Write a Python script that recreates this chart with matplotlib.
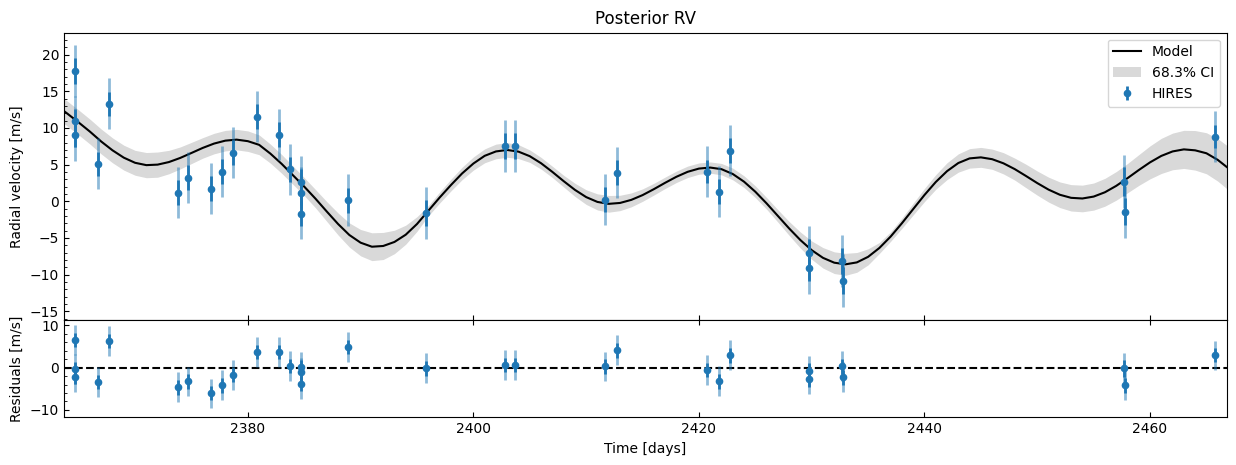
import numpy as np
import matplotlib
matplotlib.use("Agg")
import matplotlib.pyplot as plt
from matplotlib.ticker import MultipleLocator

# ---- observed data (HIRES) ----
obs_time = [2364.69, 2364.69, 2364.69, 2366.75, 2367.70, 2373.85, 2374.71, 2376.75,
            2377.72, 2378.70, 2380.85, 2382.80, 2383.78, 2384.75, 2384.75, 2384.75,
            2388.92, 2395.81, 2402.84, 2403.72, 2411.70, 2412.77, 2420.72, 2421.81,
            2422.73, 2429.76, 2429.76, 2432.71, 2432.80, 2457.71, 2457.80, 2465.78]
obs_rv = [17.73, 10.91, 9.00, 5.14, 13.33, 1.19, 3.23, 1.73,
          4.05, 6.64, 11.55, 9.10, 4.37, 2.59, 1.19, -1.68,
          0.14, -1.64, 7.60, 7.50, 0.23, 3.91, 4.05, 1.32,
          6.92, -7.00, -9.05, -8.09, -10.82, 2.69, -1.41, 8.83]
obs_err = [1.75, 1.70, 1.65, 1.64, 1.64, 1.75, 1.70, 1.70,
           1.75, 1.70, 1.70, 1.70, 1.70, 1.75, 1.70, 1.70,
           1.73, 1.75, 1.77, 1.75, 1.70, 1.73, 1.60, 1.73,
           1.73, 1.80, 1.80, 1.78, 1.80, 1.95, 1.80, 1.62]
jitter = 3.07
residuals = [6.56, -0.30, -2.30, -3.39, 6.33, -4.65, -3.23, -6.07,
             -4.17, -1.73, 3.72, 3.72, 0.40, 0.10, -1.10, -3.86,
             4.90, -0.15, 0.64, 0.64, 0.32, 4.12, -0.55, -3.23,
             2.94, -0.78, -2.76, 0.32, -2.28, -0.15, -4.17, 2.94]

# ---- model curve ----
model_time = [2363.7,
              2364, 2365, 2366, 2367, 2368, 2369,
              2370, 2371, 2372, 2373, 2374, 2375, 2376, 2377, 2378, 2379,
              2380, 2381, 2382, 2383, 2384, 2385, 2386, 2387, 2388, 2389,
              2390, 2391, 2392, 2393, 2394, 2395, 2396, 2397, 2398, 2399,
              2400, 2401, 2402, 2403, 2404, 2405, 2406, 2407, 2408, 2409,
              2410, 2411, 2412, 2413, 2414, 2415, 2416, 2417, 2418, 2419,
              2420, 2421, 2422, 2423, 2424, 2425, 2426, 2427, 2428, 2429,
              2430, 2431, 2432, 2433, 2434, 2435, 2436, 2437, 2438, 2439,
              2440, 2441, 2442, 2443, 2444, 2445, 2446, 2447, 2448, 2449,
              2450, 2451, 2452, 2453, 2454, 2455, 2456, 2457, 2458, 2459,
              2460, 2461, 2462, 2463, 2464, 2465, 2466,
              2466.8]
model_rv = [12.3,
            11.95, 10.75, 9.5, 8.15, 6.95, 5.95,
            5.25, 4.93, 5.0, 5.35, 5.91, 6.59, 7.28, 7.87, 8.27, 8.41,
            8.2, 7.7, 6.5, 5.1, 3.55, 2.0, 0.35, -1.4, -3.1, -4.6,
            -5.65, -6.2, -6.1, -5.55, -4.56, -3.1, -1.3, 0.5, 2.2, 3.8,
            5.15, 6.2, 6.8, 7.0, 6.77, 6.15, 5.19, 4.01, 2.75, 1.56,
            0.57, -0.09, -0.35, -0.23, 0.19, 0.84, 1.65, 2.52, 3.34, 4.02,
            4.46, 4.6, 4.38, 3.72, 2.67, 1.3, -0.29, -2.0, -3.71, -5.3,
            -6.67, -7.72, -8.38, -8.6, -8.34, -7.58, -6.37, -4.81, -2.99, -1.06,
            0.86, 2.63, 4.11, 5.22, 5.85, 5.99, 5.74, 5.18, 4.39, 3.45,
            2.48, 1.59, 0.89, 0.47, 0.38, 0.64, 1.23, 2.10, 3.15, 4.26,
            5.31, 6.19, 6.80, 7.08, 6.95, 6.55, 5.65,
            4.68]
ci_halfwidth = [1.7,
                1.7, 1.7, 1.7, 1.7, 1.7, 1.7,
                1.7, 1.72, 1.72, 1.6, 1.5, 1.45, 1.4, 1.4, 1.4, 1.4,
                1.4, 1.35, 1.3, 1.28, 1.25, 1.23, 1.25, 1.35, 1.5, 1.65,
                1.8, 1.9, 1.85, 1.6, 1.3, 1.0, 0.7, 0.75, 0.8, 0.85,
                0.9, 0.95, 1.0, 1.0, 0.95, 0.85, 0.8, 0.77, 0.8, 0.9,
                1.0, 1.1, 1.14, 1.05, 0.95, 0.85, 0.8, 0.78, 0.78, 0.78,
                0.77, 0.77, 0.78, 0.8, 0.8, 0.8, 0.8, 0.85, 0.95, 1.1,
                1.25, 1.4, 1.48, 1.5, 1.35, 1.1, 0.75, 0.65, 0.7, 0.8,
                0.9, 1.0, 1.15, 1.25, 1.33, 1.36, 1.38, 1.45, 1.5, 1.6,
                1.65, 1.7, 1.75, 1.8, 1.82, 1.85, 1.9, 1.95, 2.0, 2.1,
                2.25, 2.4, 2.5, 2.6, 2.7, 2.8, 2.9,
                2.95]

x_limits = (2363.7, 2466.8)
rv_limits = (-16.2, 23.0)
res_limits = (-11.75, 11.3)

# ---- figure ----
fig = plt.figure(figsize=(12.36, 4.65), dpi=100)
ax = fig.add_axes([0.0518, 0.3118, 0.9407, 0.6179])
axr = fig.add_axes([0.0518, 0.1026, 0.9407, 0.2092], sharex=ax)

t = np.array(model_time)
m = np.array(model_rv)
w = np.array(ci_halfwidth)
err = np.array(obs_err)
tot = np.sqrt(err**2 + jitter**2)

ax.plot(t, m, color="k", lw=1.5, label="Model", zorder=3)
ax.fill_between(t, m - w, m + w, color="k", alpha=0.15, lw=0, label="68.3% CI", zorder=2)
ax.errorbar(obs_time, obs_rv, yerr=tot, fmt="none", ecolor="C0", alpha=0.5,
            elinewidth=2, capsize=0, zorder=4)
ax.errorbar(obs_time, obs_rv, yerr=err, fmt="o", color="C0", ms=4.5,
            elinewidth=2, capsize=0, label="HIRES", zorder=5)

axr.axhline(0, color="k", ls="--", lw=1.5, zorder=2)
axr.errorbar(obs_time, residuals, yerr=tot, fmt="none", ecolor="C0", alpha=0.5,
             elinewidth=2, capsize=0, zorder=4)
axr.errorbar(obs_time, residuals, yerr=err, fmt="o", color="C0", ms=4.5,
             elinewidth=2, capsize=0, zorder=5)

ax.set_xlim(*x_limits)
ax.set_ylim(*rv_limits)
axr.set_ylim(*res_limits)

ax.xaxis.set_major_locator(MultipleLocator(20))
ax.yaxis.set_major_locator(MultipleLocator(5))
ax.yaxis.set_minor_locator(MultipleLocator(1))
axr.yaxis.set_major_locator(MultipleLocator(10))
axr.yaxis.set_minor_locator(MultipleLocator(2))

ax.tick_params(axis="both", which="both", direction="in", labelsize=10)
ax.tick_params(axis="x", labelbottom=False)
axr.tick_params(axis="both", which="both", direction="in", labelsize=10)
axr.tick_params(axis="x", which="major", top=True)

ax.set_title("Posterior RV", fontsize=12)
ax.set_ylabel("Radial velocity [m/s]", fontsize=10)
axr.set_ylabel("Residuals [m/s]", fontsize=10)
axr.set_xlabel("Time [days]", fontsize=10)
ax.legend(loc="upper right", fontsize=10)

fig.savefig("out.png", dpi=100)
